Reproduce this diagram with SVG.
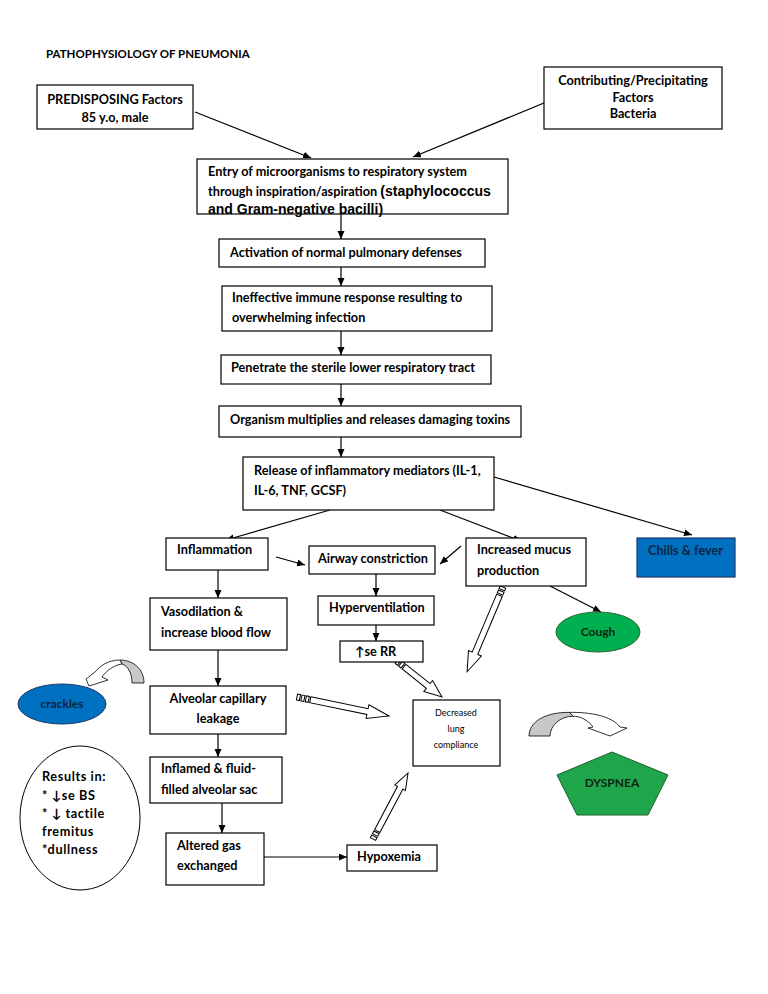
<svg xmlns="http://www.w3.org/2000/svg" width="768" height="994" viewBox="0 0 768 994">
<style>
  .bx { fill: #fff; stroke: #000; stroke-width: 1.2; }
  .t { font-family: Lato, "Liberation Sans", Arial, sans-serif; font-weight: bold; font-size: 12.7px; fill: #000; }
  .s12 { font-size: 12px; }
  .ar { font-family: "Liberation Sans", Arial, sans-serif; font-weight: bold; font-size: 14px; fill: #000; }
  .sm { font-family: Lato, "Liberation Sans", Arial, sans-serif; font-size: 9px; fill: #000; }
  .c { text-anchor: middle; }
  .ln { stroke: #000; stroke-width: 1.2; fill: none; marker-end: url(#ah); }
  .blk { fill: #fff; stroke: #000; stroke-width: 1; }
  .gr { fill: #c8c8c8; stroke: #000; stroke-width: 0.8; }
  .wh { fill: #fff; stroke: #000; stroke-width: 0.8; }
  .rs { letter-spacing: 0.6px; }
</style>
<defs>
  <marker id="ah" markerUnits="userSpaceOnUse" markerWidth="9" markerHeight="8" refX="8" refY="3.5" orient="auto">
    <path d="M0,0 L8,3.5 L0,7 Z" fill="#000"/>
  </marker>
</defs>
<rect width="768" height="994" fill="#fff"/>

<text class="t" x="46" y="58" style="font-size:11.5px">PATHOPHYSIOLOGY OF PNEUMONIA</text>

<g id="connectors">
  <line class="ln" x1="195" y1="112" x2="311" y2="158"/>
  <line class="ln" x1="556" y1="98" x2="413" y2="157"/>
  <line class="ln" x1="341" y1="214" x2="341" y2="239"/>
  <line class="ln" x1="341" y1="267" x2="341" y2="286"/>
  <line class="ln" x1="341" y1="331" x2="341" y2="355"/>
  <line class="ln" x1="341" y1="384" x2="341" y2="406"/>
  <line class="ln" x1="341" y1="437" x2="341" y2="457"/>
  <line class="ln" x1="330" y1="510" x2="226" y2="540"/>
  <line class="ln" x1="440" y1="510" x2="521" y2="541"/>
  <line class="ln" x1="494" y1="477" x2="692" y2="535"/>
  <line class="ln" x1="276" y1="557" x2="305" y2="565"/>
  <line class="ln" x1="461" y1="546" x2="440" y2="564"/>
  <line class="ln" x1="218" y1="570" x2="218" y2="598"/>
  <line class="ln" x1="376" y1="574" x2="376" y2="596"/>
  <line class="ln" x1="376" y1="625" x2="376" y2="641"/>
  <line class="ln" x1="550" y1="586" x2="601" y2="612"/>
  <line class="ln" x1="218" y1="650" x2="218" y2="686"/>
  <line class="ln" x1="218" y1="734" x2="218" y2="757"/>
  <line class="ln" x1="222" y1="803" x2="222" y2="833"/>
  <line class="ln" x1="264" y1="857" x2="347" y2="857"/>
  <!-- hollow block arrows -->
  <g transform="translate(503,587) rotate(112.95)">
    <rect class="blk" x="0" y="-3" width="3" height="6"/><rect class="blk" x="4.5" y="-3" width="3" height="6"/>
    <path class="blk" d="M9,-3 L72,-3 L72,-7 L92,0 L72,7 L72,3 L9,3 Z"/>
  </g>
  <g transform="translate(397,661) rotate(38.66)">
    <rect class="blk" x="0" y="-3" width="3" height="6"/><rect class="blk" x="4.5" y="-3" width="3" height="6"/>
    <path class="blk" d="M9,-3 L40,-3 L40,-7 L57.6,0 L40,7 L40,3 L9,3 Z"/>
  </g>
  <g transform="translate(297,697) rotate(11.67)">
    <rect class="blk" x="0" y="-3" width="3" height="6"/><rect class="blk" x="4.5" y="-3" width="3" height="6"/><rect class="blk" x="9" y="-3" width="3" height="6"/>
    <path class="blk" d="M13.5,-3 L72,-3 L72,-7 L94,0 L72,7 L72,3 L13.5,3 Z"/>
  </g>
  <g transform="translate(373,839) rotate(-62.07)">
    <rect class="blk" x="0" y="-3" width="3" height="6"/><rect class="blk" x="4.5" y="-3" width="3" height="6"/>
    <path class="blk" d="M9,-3 L58,-3 L58,-6 L74.7,0 L58,6 L58,3 L9,3 Z"/>
  </g>
  <!-- curved arrow to crackles -->
  <path class="gr" d="M120,660 C132,660 144,668 144,683 L132,683 C132,673 128,666 122,664 Z"/>
  <path class="wh" d="M120,660 C108,660 100,666 95,672 L86,679 L89,686 L108,680 L102,677 C106,671 114,665 122,664 Z"/>
  <!-- curved arrow to dyspnea -->
  <path class="gr" d="M529,736 C529,722 545,712 569.5,712.4 L573.1,716.3 C560,716 550,726 550,736 Z"/>
  <path class="wh" d="M569.5,712.4 C590,712 612,716 620,727 L627,728 L610,736 L588,728 L593,727 C588,720 580,716 573.1,716.3 Z"/>
</g>

<g id="predisposing">
  <rect class="bx" x="37" y="85" width="156" height="44"/>
  <text class="t c" x="115" y="104">PREDISPOSING Factors</text>
  <text class="t c" x="115" y="122">85 y.o, male</text>
</g>
<g id="contributing">
  <rect class="bx" x="544" y="67" width="178" height="62"/>
  <text class="t c" x="633" y="85">Contributing/Precipitating</text>
  <text class="t c" x="633" y="102">Factors</text>
  <text class="t c" x="633" y="118">Bacteria</text>
</g>
<g id="entry">
  <rect class="bx" x="197" y="159" width="311" height="55"/>
  <text class="t" x="208" y="176">Entry of microorganisms to respiratory system</text>
  <text class="t" x="208" y="196">through inspiration/aspiration <tspan class="ar">(staphylococcus</tspan></text>
  <text class="ar" x="208" y="214">and Gram-negative bacilli)</text>
</g>
<g id="activation">
  <rect class="bx" x="219" y="239" width="266" height="28"/>
  <text class="t" x="230" y="257">Activation of normal pulmonary defenses</text>
</g>
<g id="ineffective">
  <rect class="bx" x="222" y="286" width="270" height="45"/>
  <text class="t" x="232" y="302">Ineffective immune response resulting to</text>
  <text class="t" x="232" y="322">overwhelming infection</text>
</g>
<g id="penetrate">
  <rect class="bx" x="221" y="355" width="270" height="29"/>
  <text class="t" x="231" y="372">Penetrate the sterile lower respiratory tract</text>
</g>
<g id="organism">
  <rect class="bx" x="219" y="406" width="302" height="31"/>
  <text class="t" x="230" y="424">Organism multiplies and releases damaging toxins</text>
</g>
<g id="release">
  <rect class="bx" x="243" y="457" width="251" height="53"/>
  <text class="t" x="254" y="475">Release of inflammatory mediators (IL-1,</text>
  <text class="t" x="254" y="495">IL-6, TNF, GCSF)</text>
</g>
<g id="inflammation">
  <rect class="bx" x="166" y="538" width="102" height="32"/>
  <text class="t" x="177" y="554">Inflammation</text>
</g>
<g id="airway">
  <rect class="bx" x="309" y="546" width="126" height="28"/>
  <text class="t" x="318" y="563">Airway constriction</text>
</g>
<g id="mucus">
  <rect class="bx" x="466" y="538" width="120" height="48"/>
  <text class="t" x="477" y="554">Increased mucus</text>
  <text class="t" x="477" y="575">production</text>
</g>
<g id="chills">
  <rect x="637" y="538" width="98" height="39" fill="#0070c0" stroke="#1f3864" stroke-width="1.2"/>
  <text class="t" x="648" y="555" style="fill:#0f243e">Chills &amp; fever</text>
</g>
<g id="vasodilation">
  <rect class="bx" x="150" y="598" width="137" height="52"/>
  <text class="t" x="161" y="616">Vasodilation &amp;</text>
  <text class="t" x="161" y="637">increase blood flow</text>
</g>
<g id="hyperventilation">
  <rect class="bx" x="318" y="596" width="116" height="29"/>
  <text class="t" x="329" y="612">Hyperventilation</text>
</g>
<g id="rr">
  <rect class="bx" x="340" y="641" width="83" height="21"/>
  <text class="t" x="355" y="656">↑se RR</text>
</g>
<g id="cough">
  <ellipse cx="598" cy="632" rx="42" ry="20" fill="#00b050" stroke="#2d6a2d" stroke-width="1"/>
  <text class="t s12 c" x="598" y="636" style="fill:#0d260d">Cough</text>
</g>
<g id="alveolar">
  <rect class="bx" x="150" y="686" width="136" height="48"/>
  <text class="t c" x="218" y="703">Alveolar capillary</text>
  <text class="t c" x="218" y="723">leakage</text>
</g>
<g id="crackles">
  <ellipse cx="62" cy="704" rx="44" ry="20" fill="#0070c0" stroke="#1f3864" stroke-width="1"/>
  <text class="t s12 c" x="62" y="708" style="fill:#0f243e">crackles</text>
</g>
<g id="compliance">
  <rect class="bx" x="413" y="700" width="87" height="66"/>
  <text class="sm c" x="456" y="716">Decreased</text>
  <text class="sm c" x="456" y="732">lung</text>
  <text class="sm c" x="456" y="748">compliance</text>
</g>
<g id="inflamed">
  <rect class="bx" x="150" y="757" width="132" height="46"/>
  <text class="t" x="161" y="773">Inflamed &amp; fluid-</text>
  <text class="t" x="161" y="794">filled alveolar sac</text>
</g>
<g id="results">
  <ellipse cx="80" cy="818" rx="60" ry="72" fill="#fff" stroke="#000" stroke-width="1"/>
  <text class="t rs" x="42" y="781">Results in:</text>
  <text class="t rs" x="42" y="800">*  ↓se BS</text>
  <text class="t rs" x="42" y="818">* ↓ tactile</text>
  <text class="t rs" x="42" y="836">fremitus</text>
  <text class="t rs" x="42" y="854">*dullness</text>
</g>
<g id="altered">
  <rect class="bx" x="166" y="833" width="98" height="52"/>
  <text class="t" x="177" y="850">Altered gas</text>
  <text class="t" x="177" y="870">exchanged</text>
</g>
<g id="hypoxemia">
  <rect class="bx" x="347" y="845" width="90" height="26"/>
  <text class="t" x="357" y="861">Hypoxemia</text>
</g>
<g id="dyspnea">
  <polygon points="612,752 668,775 648,815 577,815 557,775" fill="#1fa64a" stroke="#1d5e2c" stroke-width="1"/>
  <text class="t s12 c" x="612" y="787" style="fill:#0d2614">DYSPNEA</text>
</g>
</svg>
